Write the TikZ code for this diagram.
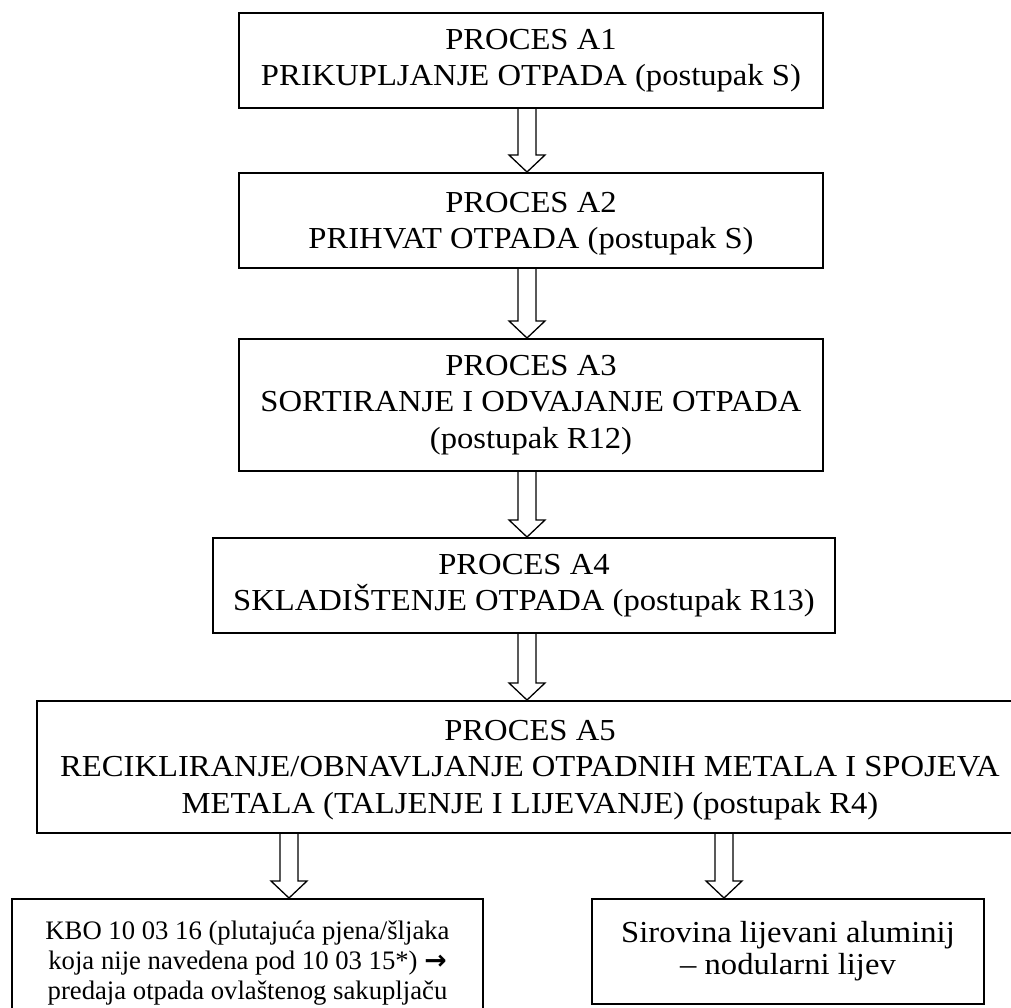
\documentclass[tikz,border=0pt]{standalone}
\usepackage{fontspec}
\setmainfont{Liberation Serif}
\newfontfamily\widefont[FakeStretch=1.07]{Liberation Serif}
\newfontfamily\arrowfont{DejaVu Sans}
\usetikzlibrary{calc}
\newcommand{\dnstrut}{\rule{0pt}{26pt}}
\tikzset{
  procbox/.style={draw, line width=2pt, align=center, inner sep=0pt, anchor=center,
    font=\widefont\fontsize{30.5pt}{36.5pt}\selectfont},
  smallbox/.style={procbox, font=\fontsize{26.7pt}{30pt}\selectfont},
  blockline/.style={draw, line width=1.3pt, fill=white, line join=miter}
}
\newcommand{\blockarr}[3]{% #1 x, #2 start anchor, #3 end anchor
  \draw[blockline] let \p1=(#2), \p2=(#3) in
    (#1-9pt,\y1) -- (#1-9pt,\y2+17pt) -- (#1-18pt,\y2+17pt) -- (#1,\y2)
    -- (#1+18pt,\y2+17pt) -- (#1+9pt,\y2+17pt) -- (#1+9pt,\y1);
}
\begin{document}
\begin{tikzpicture}[x=1pt,y=1pt]
\useasboundingbox (0,0) rectangle (1011,-1007);
\node[procbox, minimum width=584pt, minimum height=95pt] (a1) at (531,-60.5)
  {PROCES A1\\PRIKUPLJANJE OTPADA (postupak S)};
\node[procbox, minimum width=584pt, minimum height=95pt] (a2) at (531,-220.5)
  {\dnstrut PROCES A2\\PRIHVAT OTPADA (postupak S)};
\node[procbox, minimum width=584pt, minimum height=132pt] (a3) at (531,-405)
  {PROCES A3\\SORTIRANJE I ODVAJANJE OTPADA\\(postupak R12)};
\node[procbox, minimum width=622pt, minimum height=95pt] (a4) at (524,-585.5)
  {PROCES A4\\SKLADIŠTENJE OTPADA (postupak R13)};
\node[procbox, minimum width=986pt, minimum height=132pt] (a5) at (530,-767)
  {\dnstrut PROCES A5\\RECIKLIRANJE/OBNAVLJANJE OTPADNIH METALA I SPOJEVA\\METALA (TALJENJE I LIJEVANJE) (postupak R4)};
\node[smallbox, minimum width=471pt, minimum height=128pt] (b1) at (247.5,-963)
  {KBO 10 03 16 (plutajuća pjena/šljaka\\koja nije navedena pod 10 03 15*) {\arrowfont\bfseries →}\\predaja otpada ovlaštenog sakupljaču};
\node[procbox, font=\widefont\fontsize{30.5pt}{32pt}\selectfont, minimum width=392pt, minimum height=105pt] (b2) at (788,-951.5)
  {Sirovina lijevani aluminij\\– nodularni lijev};
\blockarr{527}{a1.south}{a2.north}
\blockarr{527}{a2.south}{a3.north}
\blockarr{527}{a3.south}{a4.north}
\blockarr{527}{a4.south}{a5.north}
\blockarr{289}{a5.south}{b1.north}
\blockarr{724}{a5.south}{b2.north}
\end{tikzpicture}
\end{document}
